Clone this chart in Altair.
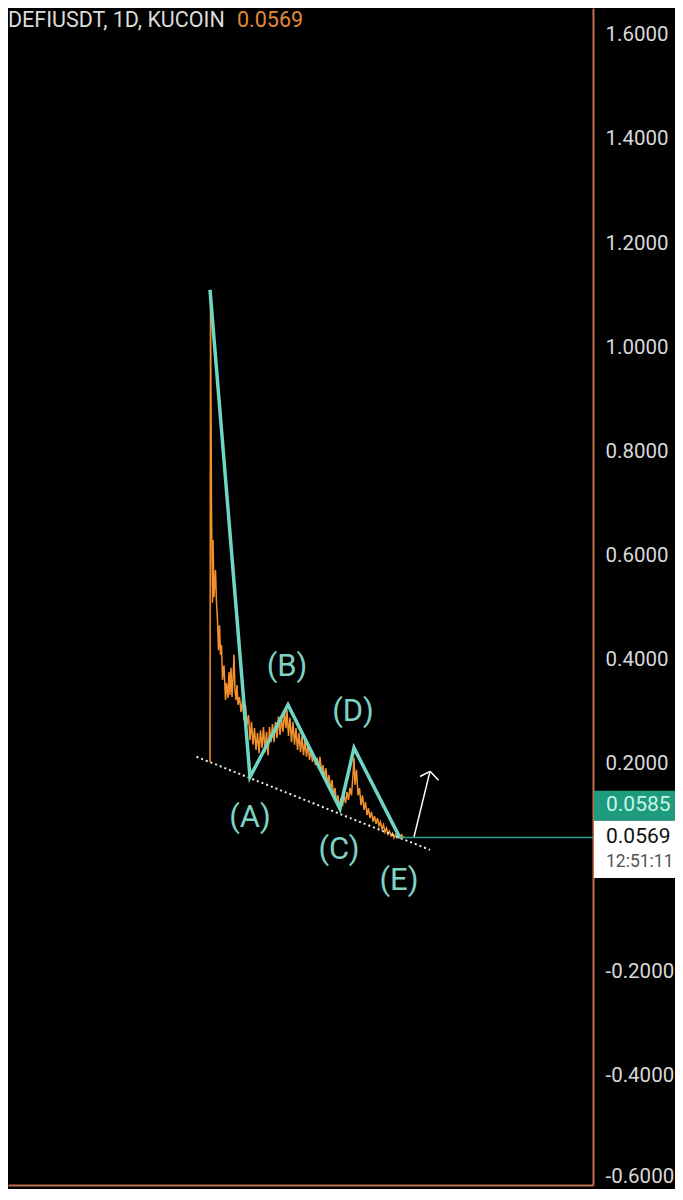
import altair as alt
import pandas as pd

# ---- price series (day index since listing, close) ----
days = [0, 1, 3, 5, 6, 8, 11, 13, 15, 17, 19, 21, 23, 25, 28, 31, 33, 36, 38, 40,
        42, 44, 46, 48, 50, 52, 54, 56, 59, 62, 65, 68, 71, 74, 77, 80, 83, 86, 89, 92,
        95, 98, 101, 104, 107, 110, 113, 116, 119, 122, 125, 128, 131, 134, 137, 140, 143, 146, 149, 152,
        154, 157, 160, 163, 166, 169, 172, 175, 178, 181, 184, 187, 190, 193, 196, 199, 202, 205, 208, 211,
        214, 217, 220, 223, 226, 229, 232, 235, 238, 241, 244, 247, 250, 253, 256, 259, 262, 265, 268, 271,
        274, 277, 280, 283, 286, 288, 290, 293, 296, 299, 302, 305, 308, 311, 314, 317, 320, 323, 326, 329,
        332, 335, 338, 341, 344, 347, 350, 353, 356, 359, 362, 365, 368, 371, 374, 377, 380, 383, 386, 390]
price = [0.202, 1.110, 0.687, 0.508, 0.629, 0.519, 0.571, 0.508, 0.475, 0.417,
         0.465, 0.408, 0.427, 0.360, 0.388, 0.321, 0.354, 0.325, 0.375, 0.331,
         0.383, 0.327, 0.360, 0.408, 0.340, 0.321, 0.350, 0.312, 0.327, 0.298,
         0.321, 0.283, 0.312, 0.273, 0.292, 0.244, 0.279, 0.235, 0.267, 0.225,
         0.258, 0.219, 0.263, 0.229, 0.269, 0.221, 0.260, 0.215, 0.269, 0.240,
         0.275, 0.240, 0.279, 0.248, 0.290, 0.254, 0.287, 0.260, 0.298, 0.267,
         0.302, 0.252, 0.287, 0.240, 0.279, 0.235, 0.267, 0.225, 0.258, 0.221,
         0.252, 0.215, 0.244, 0.212, 0.235, 0.206, 0.225, 0.202, 0.215, 0.196,
         0.210, 0.190, 0.212, 0.183, 0.196, 0.171, 0.190, 0.158, 0.177, 0.148,
         0.167, 0.138, 0.152, 0.123, 0.138, 0.113, 0.133, 0.117, 0.138, 0.123,
         0.144, 0.129, 0.152, 0.138, 0.177, 0.210, 0.158, 0.187, 0.138, 0.152,
         0.119, 0.138, 0.110, 0.125, 0.100, 0.113, 0.094, 0.106, 0.087, 0.098,
         0.083, 0.094, 0.079, 0.087, 0.073, 0.081, 0.067, 0.075, 0.063, 0.069,
         0.060, 0.065, 0.056, 0.062, 0.056, 0.060, 0.056, 0.062, 0.058, 0.0569]

# ---- Elliott wave zigzag ----
wave_day = [0, 80, 156, 260, 288, 380]
wave_val = [1.110, 0.173, 0.312, 0.112, 0.229, 0.056]

label_txt = ["(A)", "(B)", "(C)", "(D)", "(E)"]
label_day = [80, 154, 258, 286, 378]
label_val = [0.094, 0.385, 0.033, 0.298, -0.027]

# ---- dotted support trendline ----
trend_day = [-27, 440]
trend_val = [0.212, 0.033]

# ---- last price line ----
last_price = 0.0569
price_line_day = [384, 766]

# ---- arrow segments ----
arrow_x = [408, 420, 457]
arrow_y = [0.058, 0.174, 0.167]
arrow_x2 = [440, 440, 440]
arrow_y2 = [0.184, 0.184, 0.184]

# ---- axis ticks ----
axis_ticks = [1.6, 1.4, 1.2, 1.0, 0.8, 0.6, 0.4, 0.2, -0.2, -0.4, -0.6]

# ---- price tags on the axis ----
tag_top = [0.1467, 0.089]
tag_bottom = [0.089, -0.0212]
tag_fill = ["#1e9a7e", "#ffffff"]
tag_text = ["0.0585", "0.0569", "12:51:11"]
tag_text_val = [0.119, 0.0577, 0.0096]
tag_text_color = ["#c8f5e8", "#111111", "#555555"]
tag_text_size = [21, 21, 17.5]

W, H = 585, 1177
RIGHT = 82
X_DOMAIN = [-404, 766]
Y_TOP = 1.651923
Y_BOT = -0.611538
ORANGE_AX = "#c0714a"
FONT = "Roboto"

xs = alt.Scale(domain=X_DOMAIN, nice=False, zero=False)
ys = alt.Scale(domain=[Y_BOT, Y_TOP], nice=False, zero=False)

df_price = pd.DataFrame({"day": days, "price": price})
df_wave = pd.DataFrame({"day": wave_day, "price": wave_val})
df_lbl = pd.DataFrame({"day": label_day, "price": label_val, "txt": label_txt})
df_trend = pd.DataFrame({"day": trend_day, "price": trend_val})
df_pl = pd.DataFrame({"day": price_line_day, "price": [last_price, last_price]})
df_arrow = pd.DataFrame({"x": arrow_x, "y": arrow_y, "x2": arrow_x2, "y2": arrow_y2})
df_tag = pd.DataFrame({"top": tag_top, "bottom": tag_bottom, "fill": tag_fill})
df_tagtxt = pd.DataFrame({"price": tag_text_val, "txt": tag_text,
                          "color": tag_text_color, "size": tag_text_size})
df_head = pd.DataFrame({"txt": ["DEFIUSDT, 1D, KUCOIN"]})
df_head2 = pd.DataFrame({"txt": ["0.0569"]})

price_line = alt.Chart(df_price).mark_line(color="#f2912c", strokeWidth=1.5).encode(
    x=alt.X("day:Q", scale=xs,
            axis=alt.Axis(orient="bottom", labels=False, ticks=False, grid=False,
                          domainColor=ORANGE_AX, domainWidth=2, title=None)),
    y=alt.Y("price:Q", scale=ys,
            axis=alt.Axis(orient="right", values=axis_ticks,
                          labelExpr="replace(format(datum.value, '.4f'), '\u2212', '-')",
                          labelFont=FONT, labelFontSize=20.5, labelColor="#d9d9d9",
                          labelPadding=12, ticks=False, grid=False, labelFlush=False,
                          labelOverlap=False, domainColor=ORANGE_AX, domainWidth=2,
                          labelOffset={"condition": {"test": "datum.value < -0.5", "value": -3},
                                       "value": 0},
                          title=None)),
)

trend = alt.Chart(df_trend).mark_line(color="#eeeeee", strokeWidth=2, strokeDash=[2, 3]).encode(
    x=alt.X("day:Q", scale=xs), y=alt.Y("price:Q", scale=ys))

pline = alt.Chart(df_pl).mark_line(color="#26a08e", strokeWidth=1.5).encode(
    x=alt.X("day:Q", scale=xs), y=alt.Y("price:Q", scale=ys))

wave = alt.Chart(df_wave).mark_line(color="#6fd6c4", strokeWidth=3.5, strokeJoin="miter").encode(
    x=alt.X("day:Q", scale=xs), y=alt.Y("price:Q", scale=ys))

labels = alt.Chart(df_lbl).mark_text(font=FONT, fontSize=31, color="#7fd2c4",
                                     align="center", baseline="middle").encode(
    x=alt.X("day:Q", scale=xs), y=alt.Y("price:Q", scale=ys), text="txt:N")

arrow = alt.Chart(df_arrow).mark_rule(color="#ffffff", strokeWidth=1.5).encode(
    x=alt.X("x:Q", scale=xs), y=alt.Y("y:Q", scale=ys), x2="x2:Q", y2="y2:Q")

tags = alt.Chart(df_tag).mark_rect().encode(
    x=alt.value(W + 1), x2=alt.value(W + RIGHT + 5),
    y=alt.Y("top:Q", scale=ys), y2="bottom:Q",
    fill=alt.Fill("fill:N", scale=None))

tag_txt = alt.Chart(df_tagtxt).mark_text(font=FONT, align="left",
                                         baseline="middle").encode(
    x=alt.value(W + 13), y=alt.Y("price:Q", scale=ys), text="txt:N",
    color=alt.Color("color:N", scale=None),
    size=alt.Size("size:Q", scale=None))

head = alt.Chart(df_head).mark_text(font=FONT, fontSize=21.5, color="#dcdcdc",
                                    align="left", baseline="alphabetic").encode(
    x=alt.value(0), y=alt.value(19), text="txt:N")

head2 = alt.Chart(df_head2).mark_text(font=FONT, fontSize=21.5, color="#e0883a",
                                      align="left", baseline="alphabetic").encode(
    x=alt.value(229), y=alt.value(19), text="txt:N")

chart = alt.layer(
    price_line, trend, pline, wave, arrow, labels, tags, tag_txt, head, head2
).properties(
    width=W, height=H,
    autosize=alt.AutoSizeParams(type="none"),
    padding={"left": 0, "top": 0, "right": RIGHT, "bottom": 4},
    background="#000000",
).configure_view(strokeWidth=0)

chart.save("out.html", embed_options={"renderer": "svg", "actions": False})
